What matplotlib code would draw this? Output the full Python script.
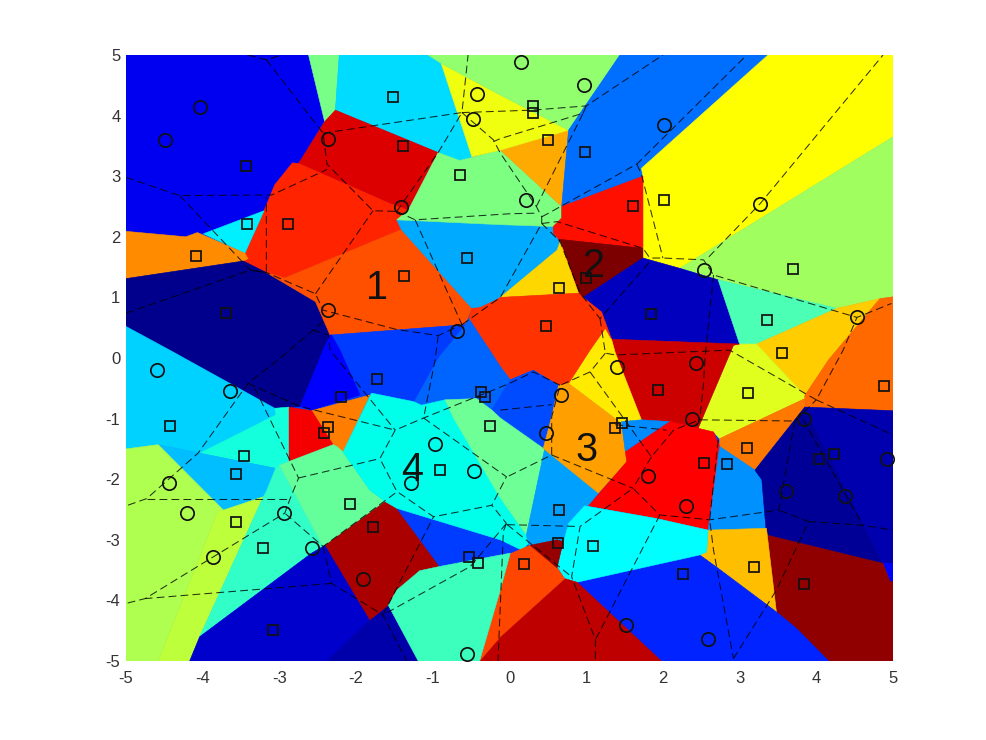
import matplotlib
matplotlib.use("Agg")
import matplotlib.pyplot as plt
from matplotlib.patches import Polygon

plt.rcParams["font.family"] = ["Liberation Sans", "DejaVu Sans"]
plt.rcParams["axes.unicode_minus"] = False

# filled cells: vertices and colour
cells = [
    ((0, 0, 240), [(-5, 5), (-2.62, 5), (-2.41, 3.93), (-2.75, 3.21), (-2.83, 3.22), (-3.06, 2.86), (-3.2, 2.43), (-3.99, 2.05), (-4.07, 2.07), (-4.22, 2.0), (-5, 2.09)]),
    ((120, 255, 135), [(-2.62, 5), (-2.22, 5), (-2.27, 4.09), (-2.41, 3.9)]),
    ((0, 220, 255), [(-2.22, 5), (-1.06, 5), (-0.89, 4.86), (-0.49, 3.32), (-0.65, 3.26), (-0.93, 3.39), (-2.27, 4.09)]),
    ((220, 0, 0), [(-2.27, 4.09), (-0.93, 3.39), (-1.32, 2.44), (-1.56, 2.55), (-2.75, 3.21), (-2.41, 3.9)]),
    ((255, 35, 0), [(-2.83, 3.22), (-2.75, 3.21), (-1.56, 2.55), (-1.32, 2.44), (-1.47, 2.28), (-1.41, 2.12), (-2.93, 1.32), (-3.17, 1.41), (-3.47, 1.6), (-3.41, 1.64), (-3.45, 1.73), (-3.2, 2.43), (-3.06, 2.86)]),
    ((0, 240, 255), [(-3.99, 2.05), (-3.2, 2.43), (-3.45, 1.73)]),
    ((255, 140, 0), [(-5, 2.09), (-4.22, 2.0), (-4.07, 2.07), (-3.45, 1.73), (-3.41, 1.64), (-3.47, 1.6), (-5, 1.31)]),
    ((0, 0, 140), [(-5, 1.31), (-3.47, 1.6), (-3.17, 1.41), (-2.53, 0.93), (-2.34, 0.38), (-2.43, 0.13), (-2.73, -0.8), (-3.06, -0.83), (-4.43, 0.13), (-5, 0.52)]),
    ((255, 80, 0), [(-1.41, 2.12), (-0.49, 0.82), (-0.58, 0.55), (-2.32, 0.38), (-2.34, 0.38), (-2.53, 0.93), (-3.17, 1.41), (-2.93, 1.32)]),
    ((0, 170, 255), [(-1.47, 2.28), (-0.12, 2.2), (0.57, 2.17), (0.66, 1.92), (0.62, 1.78), (-0.12, 1.0), (-0.17, 0.96), (-0.39, 0.83), (-0.49, 0.82), (-1.41, 2.12)]),
    ((125, 255, 130), [(-1.47, 2.28), (-1.32, 2.44), (-0.93, 3.39), (-0.65, 3.26), (-0.12, 3.43), (0.68, 2.5), (0.68, 2.31), (0.57, 2.17), (-0.12, 2.2)]),
    ((255, 170, 0), [(-0.12, 3.43), (0.77, 3.76), (0.68, 2.5)]),
    ((240, 255, 15), [(-0.89, 4.86), (-0.12, 4.34), (0.77, 3.76), (-0.12, 3.43), (-0.49, 3.32)]),
    ((145, 255, 110), [(-1.06, 5), (1.44, 5), (0.77, 3.76), (-0.12, 4.34), (-0.89, 4.86)]),
    ((0, 110, 255), [(1.44, 5), (3.37, 5), (1.72, 3.13), (1.74, 3.0), (0.68, 2.5), (0.77, 3.76)]),
    ((255, 255, 0), [(3.37, 5), (5, 5), (5, 3.65), (2.22, 1.48), (1.74, 1.65), (1.74, 3.0), (1.72, 3.13)]),
    ((160, 255, 95), [(5, 3.65), (5, 1.01), (4.83, 0.98), (4.27, 0.82), (2.72, 1.29), (2.22, 1.48)]),
    ((255, 15, 0), [(1.74, 3.0), (1.74, 1.81), (0.64, 1.96), (0.57, 2.06), (0.57, 2.17), (0.68, 2.31), (0.68, 2.5)]),
    ((125, 0, 0), [(0.64, 1.96), (1.74, 1.81), (1.74, 1.65), (0.96, 1.0), (0.9, 1.07)]),
    ((255, 215, 0), [(0.62, 1.78), (0.66, 1.92), (0.9, 1.07), (-0.12, 1.0)]),
    ((0, 0, 190), [(1.74, 1.65), (2.22, 1.48), (2.72, 1.29), (3.0, 0.23), (1.33, 0.31), (1.2, 0.76), (0.96, 1.0)]),
    ((75, 255, 180), [(2.72, 1.29), (4.27, 0.82), (3.22, 0.23), (3.0, 0.23)]),
    ((255, 205, 0), [(4.27, 0.82), (4.83, 0.98), (4.16, -0.03), (3.85, -0.62), (3.22, 0.23)]),
    ((225, 255, 30), [(2.92, 0.21), (3.0, 0.23), (3.22, 0.23), (3.85, -0.62), (3.85, -0.67), (2.74, -1.33), (2.66, -1.22), (2.46, -1.16)]),
    ((255, 105, 0), [(4.83, 0.98), (5, 1.01), (5, -0.87), (3.85, -0.81), (3.85, -0.62), (4.16, -0.03)]),
    ((255, 120, 0), [(3.85, -0.67), (3.85, -0.81), (3.2, -1.85), (2.74, -1.46), (2.74, -1.33)]),
    ((205, 0, 0), [(1.33, 0.31), (3.0, 0.23), (2.92, 0.21), (2.46, -1.16), (2.09, -1.05), (1.72, -1.02), (1.38, 0.08)]),
    ((255, 235, 0), [(1.25, 0.49), (1.33, 0.31), (1.38, 0.08), (1.72, -1.02), (1.46, -1.08), (0.77, -0.42), (1.05, 0.13)]),
    ((255, 50, 0), [(-0.49, 0.82), (-0.39, 0.83), (-0.17, 0.96), (-0.12, 1.0), (0.9, 1.07), (0.96, 1.0), (1.2, 0.76), (1.33, 0.31), (1.25, 0.49), (1.05, 0.13), (0.77, -0.42), (0.64, -0.45), (0.31, -0.2), (0.01, -0.36), (-0.12, -0.14), (-0.53, 0.65)]),
    ((0, 100, 255), [(-0.53, 0.65), (-0.58, 0.55), (-0.93, 0.01), (-0.97, 0.13), (-1.25, -0.72), (-1.15, -0.78), (-0.84, -0.69), (-0.43, -0.67), (-0.23, -0.86), (0.01, -0.36), (-0.12, -0.14)]),
    ((0, 75, 255), [(0.01, -0.36), (0.31, -0.2), (0.64, -0.45), (0.55, -0.97), (0.44, -1.49), (-0.12, -0.99), (-0.23, -0.86)]),
    ((0, 60, 255), [(-2.32, 0.38), (-0.58, 0.55), (-0.93, 0.01), (-1.25, -0.72), (-1.8, -0.58), (-1.95, -0.61), (-2.21, 0.13)]),
    ((0, 0, 255), [(-2.34, 0.38), (-2.32, 0.38), (-2.21, 0.13), (-1.95, -0.61), (-2.58, -0.86), (-2.73, -0.8), (-2.43, 0.13)]),
    ((255, 125, 0), [(-2.58, -0.87), (-1.82, -0.61), (-2.17, -1.55), (-2.25, -1.46), (-2.3, -1.43)]),
    ((245, 0, 0), [(-2.88, -0.81), (-2.58, -0.87), (-2.3, -1.43), (-2.88, -1.71)]),
    ((0, 210, 255), [(-5, 0.52), (-4.43, 0.13), (-3.06, -0.83), (-3.05, -0.94), (-4.04, -1.57), (-4.58, -1.43), (-5, -1.5)]),
    ((20, 255, 220), [(-3.06, -0.83), (-2.88, -0.81), (-2.88, -1.71), (-3.0, -1.77), (-3.05, -1.82), (-4.04, -1.57), (-3.05, -0.94)]),
    ((0, 190, 255), [(-4.58, -1.43), (-4.04, -1.57), (-3.05, -1.82), (-3.17, -2.2), (-3.21, -2.29), (-3.73, -2.51)]),
    ((175, 255, 80), [(-5, -1.5), (-4.58, -1.43), (-3.73, -2.51), (-3.8, -2.51), (-4.27, -4.02), (-4.58, -5), (-5, -5)]),
    ((190, 255, 60), [(-3.73, -2.51), (-3.21, -2.29), (-4.04, -4.6), (-4.17, -5), (-4.58, -5), (-4.27, -4.02), (-3.8, -2.51)]),
    ((50, 255, 200), [(-3.05, -1.82), (-3.0, -1.77), (-2.43, -3.11), (-2.58, -3.22), (-4.04, -4.6), (-3.21, -2.29), (-3.17, -2.2)]),
    ((100, 255, 155), [(-3.0, -1.77), (-2.88, -1.71), (-2.3, -1.43), (-2.25, -1.46), (-2.17, -1.55), (-1.82, -2.18), (-1.62, -2.37), (-2.4, -3.09), (-2.43, -3.11)]),
    ((0, 0, 205), [(-2.58, -3.22), (-2.43, -3.11), (-2.4, -3.09), (-1.82, -4.32), (-2.38, -5), (-4.17, -5), (-4.04, -4.6)]),
    ((0, 0, 170), [(-1.82, -4.32), (-1.58, -4.08), (-1.19, -5), (-2.38, -5)]),
    ((170, 0, 0), [(-1.62, -2.37), (-1.47, -2.48), (-0.91, -3.44), (-1.17, -3.51), (-1.47, -3.83), (-1.58, -4.08), (-1.82, -4.32), (-2.4, -3.09)]),
    ((0, 60, 255), [(-1.47, -2.48), (0.0, -3.05), (0.16, -3.17), (0.01, -3.22), (-0.91, -3.44)]),
    ((0, 255, 235), [(-1.8, -0.58), (-1.25, -0.72), (-1.15, -0.78), (-0.84, -0.69), (-0.73, -0.99), (-0.04, -2.34), (-0.12, -2.31), (0.22, -2.92), (0.25, -3.06), (0.16, -3.17), (-0.12, -3.0), (-1.47, -2.48), (-1.62, -2.37), (-1.82, -2.18), (-2.17, -1.55)]),
    ((110, 255, 150), [(-0.84, -0.69), (-0.43, -0.67), (-0.23, -0.86), (-0.12, -0.99), (0.44, -1.49), (0.46, -1.49), (0.22, -2.92), (-0.12, -2.31), (-0.73, -0.99)]),
    ((0, 160, 255), [(0.46, -1.49), (1.16, -2.23), (1.03, -2.44), (0.77, -2.73), (0.7, -3.03), (0.25, -3.09), (0.22, -2.92)]),
    ((255, 160, 0), [(0.64, -0.45), (0.77, -0.42), (1.46, -1.08), (1.53, -1.71), (1.16, -2.23), (0.44, -1.49), (0.55, -0.97)]),
    ((0, 140, 255), [(1.46, -1.05), (1.72, -1.02), (2.09, -1.05), (1.51, -1.55)]),
    ((255, 0, 0), [(2.09, -1.05), (2.46, -1.16), (2.66, -1.22), (2.74, -1.46), (2.59, -2.84), (1.92, -2.65), (1.03, -2.44), (1.53, -1.71), (1.51, -1.55)]),
    ((0, 145, 255), [(2.74, -1.46), (3.2, -1.85), (3.29, -2.01), (3.35, -2.81), (2.59, -2.84)]),
    ((0, 0, 150), [(3.85, -0.81), (3.2, -1.85), (3.29, -2.01), (3.35, -2.92), (4.87, -3.39)]),
    ((0, 0, 175), [(3.85, -0.81), (5, -0.87), (5, -3.39), (4.87, -3.39)]),
    ((0, 0, 255), [(4.87, -3.39), (5, -3.39), (5, -3.69), (4.96, -3.69)]),
    ((145, 0, 0), [(3.35, -2.81), (3.35, -2.92), (4.87, -3.39), (4.96, -3.69), (5, -3.69), (5, -5), (4.16, -5), (3.74, -4.46), (3.48, -4.19)]),
    ((255, 190, 0), [(2.59, -2.84), (3.35, -2.81), (3.48, -4.19), (2.72, -3.47), (2.48, -3.25), (2.57, -3.2)]),
    ((0, 35, 255), [(0.88, -3.7), (2.48, -3.25), (2.72, -3.47), (3.48, -4.19), (3.74, -4.46), (4.16, -5), (1.98, -5)]),
    ((0, 255, 255), [(0.98, -2.44), (1.92, -2.65), (2.59, -2.84), (2.57, -3.2), (2.48, -3.25), (0.88, -3.7), (0.72, -3.64), (0.62, -3.44), (0.77, -2.73)]),
    ((190, 0, 0), [(0.72, -3.64), (0.88, -3.7), (1.98, -5), (-0.39, -5), (-0.12, -4.6)]),
    ((255, 70, 0), [(0.01, -3.23), (0.27, -3.09), (0.62, -3.46), (0.72, -3.64), (-0.12, -4.6), (-0.39, -5), (-0.12, -3.83)]),
    ((150, 0, 0), [(0.27, -3.09), (0.62, -3.0), (0.7, -3.03), (0.62, -3.46)]),
    ((60, 255, 190), [(-0.91, -3.44), (0.01, -3.22), (-0.12, -3.83), (-0.39, -5), (-1.19, -5), (-1.58, -4.08), (-1.47, -3.83), (-1.17, -3.51)]),
]

# dashed cell boundaries
edges = [
    [(-3.41, 5), (-3.17, 4.92), (-2.97, 5)],
    [(-3.17, 4.92), (-2.43, 3.71), (-2.38, 3.2), (-1.78, 2.43), (-1.47, 2.42)],
    [(-2.43, 3.71), (-0.62, 4.05), (-0.54, 5)],
    [(-0.62, 4.05), (0.29, 4.09), (1.0, 4.16), (2.0, 5)],
    [(-5, 2.98), (-4.3, 2.68), (-3.1, 2.69), (-2.38, 3.11)],
    [(-4.3, 2.68), (-3.38, 1.45), (-3.17, 1.41), (-3.17, 2.66)],
    [(-5, 0.74), (-3.38, 1.45), (-3.17, 1.41), (-2.53, 1.06), (-2.43, 0.79), (-1.47, 0.47), (-0.93, 0.37), (-0.62, 0.55)],
    [(-2.53, 1.06), (-1.78, 2.43)],
    [(-1.23, 2.28), (-0.62, 0.55)],
    [(-1.47, 2.42), (-1.23, 2.28), (0.0, 2.38), (0.35, 2.39)],
    [(-1.47, 2.42), (-0.93, 3.39), (-0.62, 4.05)],
    [(-0.93, 0.37), (-0.97, -0.03), (-1.12, -0.99)],
    [(-2.43, 0.6), (-2.56, 0.46), (-2.97, 0.02), (-3.41, -0.42), (-4.06, -1.57), (-4.73, -2.32), (-5, -2.44)],
    [(-2.56, 0.46), (-2.36, 0.38), (-2.34, 0.13), (-1.49, -1.19)],
    [(-0.62, 0.55), (-0.12, 1.0), (0.42, 2.22), (0.42, 2.33), (0.35, 2.5), (-0.12, 3.38), (-0.21, 3.6), (-0.62, 4.05)],
    [(0.42, 2.22), (0.62, 2.25), (1.74, 1.81), (1.83, 1.65), (2.0, 1.65), (2.53, 1.62), (2.66, 1.37), (4.53, 0.67), (4.98, 0.9)],
    [(0.42, 2.33), (0.51, 2.39), (1.66, 3.2), (3.07, 4.97)],
    [(0.35, 2.5), (0.96, 4.04), (-0.12, 3.62), (-0.21, 3.57)],
    [(0.96, 4.04), (1.0, 4.16)],
    [(1.66, 3.2), (1.72, 3.03), (2.0, 1.65)],
    [(2.6, 1.67), (3.27, 2.55), (4.87, 5)],
    [(2.66, 1.37), (2.55, 0.02), (2.53, -0.42), (2.48, -1.02)],
    [(0.42, 2.22), (0.66, 1.92), (0.92, 1.07), (1.18, 0.65), (1.83, 1.59)],
    [(1.18, 0.65), (1.25, 0.08), (1.38, 0.05), (2.87, 0.13), (4.0, -0.69), (4.35, 0.13), (4.53, 0.67)],
    [(4.0, -0.69), (5, -1.27)],
    [(1.25, 0.08), (1.05, -0.23), (0.66, -0.45), (0.55, -0.97), (0.55, -1.6), (-0.03, -1.96)],
    [(1.05, -0.23), (1.85, -1.63), (2.14, -1.19), (2.48, -1.02), (3.72, -1.04), (4.0, -0.69)],
    [(3.72, -1.04), (3.51, -2.51), (2.61, -2.67), (1.96, -2.59), (1.61, -2.15), (0.92, -2.78), (0.81, -3.61), (1.12, -4.65), (1.12, -5)],
    [(0.55, -1.6), (1.61, -2.15)],
    [(1.85, -1.63), (1.61, -2.15)],
    [(1.38, -1.1), (2.05, -1.19)],
    [(2.72, -1.35), (2.61, -2.67), (2.66, -3.17), (2.92, -4.96)],
    [(2.92, -4.96), (3.48, -3.83), (3.9, -2.7), (3.51, -2.51)],
    [(3.9, -2.7), (4.61, -2.76), (5, -2.84)],
    [(3.83, -1.02), (4.61, -2.76)],
    [(1.96, -2.59), (1.12, -4.65)],
    [(0.66, -0.45), (0.31, -0.23), (0.0, -0.42), (-0.49, -0.67), (-1.12, -0.99), (-1.49, -1.19), (-1.69, -1.66), (-1.47, -2.2), (-0.99, -2.62), (-0.23, -2.43), (-0.04, -2.73)],
    [(-1.12, -0.99), (-0.04, -1.96), (-0.23, -2.43)],
    [(-0.12, -0.86), (0.55, -0.77)],
    [(-3.41, -0.42), (-2.73, -0.8), (-1.49, -1.19)],
    [(-3.32, -0.5), (-2.75, -1.98), (-2.86, -2.32), (-2.93, -2.56), (-3.86, -3.28), (-4.75, -3.97), (-5, -4.05)],
    [(-4.73, -2.32), (-2.86, -2.32)],
    [(-2.75, -1.98), (-1.69, -1.66)],
    [(-1.49, -2.23), (-2.43, -3.11), (-2.93, -2.56)],
    [(-2.43, -3.11), (-2.32, -3.72), (-1.65, -4.24), (-1.34, -5)],
    [(-2.32, -3.72), (-4.75, -3.97)],
    [(-1.65, -4.24), (-0.99, -2.62)],
    [(-0.04, -2.73), (-0.51, -3.44), (-1.65, -4.24)],
    [(-0.04, -2.73), (-0.08, -2.86), (-0.15, -5)],
    [(-0.03, -2.75), (0.9, -2.78)],
    [(-0.03, -2.75), (0.81, -3.61)],
]

circles_x = [-4.03, -4.49, -2.37, -1.42, -2.37, -0.68, -0.48, -0.43, 0.15, 0.97, 2.01, 0.22, 3.26, 2.53, 4.53,
             -4.59, -3.65, -4.44, -4.2, -3.87, -2.94, -2.58, -1.91, -0.97, -1.28, -0.46, -0.56,
             1.4, 2.43, 0.67, 2.38, 0.48, 1.81, 2.3, 1.52, 2.59, 3.84, 3.61, 4.37, 4.92]
circles_y = [4.15, 3.6, 3.61, 2.49, 0.79, 0.45, 3.94, 4.35, 4.88, 4.5, 3.85, 2.6, 2.54, 1.45, 0.67,
             -0.2, -0.55, -2.07, -2.55, -3.28, -2.55, -3.14, -3.65, -1.42, -2.07, -1.86, -4.89,
             -0.15, -0.09, -0.61, -1.01, -1.23, -1.94, -2.45, -4.41, -4.63, -1.01, -2.2, -2.27, -1.66]

squares_x = [-1.52, -1.39, -3.44, -0.64, -3.42, -2.89, -4.09, -0.55, -1.38, -3.69,
             0.31, 0.31, 0.5, 0.98, 1.61, 2.01, 3.69, 1.0, 0.65, 1.85, 3.36, 0.48, 3.55,
             -1.73, -2.2, -4.42, -2.37, -2.42, -3.46, -3.57, -3.57, -2.08, -1.78, -3.22, -3.08, -0.9, -0.37, -0.32, -0.26, -0.53, -0.41,
             1.94, 3.11, 4.88, 1.47, 1.37, 3.1, 2.54, 2.84, 4.04, 4.23, 0.65, 0.63, 1.09, 0.19, 2.26, 3.19, 3.84]
squares_y = [4.3, 3.5, 3.17, 3.02, 2.21, 2.21, 1.69, 1.65, 1.35, 0.75,
             4.16, 4.05, 3.6, 3.4, 2.51, 2.6, 1.47, 1.32, 1.16, 0.73, 0.62, 0.53, 0.09,
             -0.35, -0.65, -1.12, -1.14, -1.24, -1.62, -1.92, -2.71, -2.41, -2.79, -3.14, -4.49, -1.84, -0.56, -0.64, -1.13, -3.28, -3.38,
             -0.53, -0.58, -0.47, -1.07, -1.16, -1.49, -1.74, -1.75, -1.67, -1.59, -2.51, -3.06, -3.11, -3.4, -3.57, -3.45, -3.73]

labels = ["1", "2", "3", "4"]
labels_x = [-1.73, 1.1, 1.0, -1.27]
labels_y = [1.15, 1.52, -1.52, -1.84]

ticks = list(range(-5, 6))

fig = plt.figure(figsize=(9.86, 7.4), dpi=100)
ax = fig.add_axes([126 / 986, 1 - 661 / 740, 767 / 986, 606 / 740])
ax.set_facecolor((0, 60 / 255, 1))

for rgb, verts in cells:
    col = tuple(c / 255 for c in rgb)
    ax.add_patch(Polygon(verts, closed=True, facecolor=col, edgecolor=col, linewidth=0.4))

for edge in edges:
    ax.plot([p[0] for p in edge], [p[1] for p in edge], color="black", linestyle=(0, (7.5, 4)), linewidth=0.75, alpha=0.8)

ax.plot(circles_x, circles_y, "o", mfc="none", mec="#111111", ms=9.6, mew=1.25, clip_on=False)
ax.plot(squares_x, squares_y, "s", mfc="none", mec="#111111", ms=7.6, mew=1.25)

for s, x, y in zip(labels, labels_x, labels_y):
    ax.text(x, y, s, fontsize=28.5, color="#111111", ha="center", va="center")

ax.set_xlim(-5, 5)
ax.set_ylim(-5, 5)
ax.set_xticks(ticks)
ax.set_yticks(ticks)
ax.tick_params(labelsize=12, labelcolor="#333333", length=0)
ax.tick_params(axis="x", pad=7)
ax.tick_params(axis="y", pad=4)
for spine in ax.spines.values():
    spine.set_visible(False)

fig.savefig("out.png", dpi=100)
